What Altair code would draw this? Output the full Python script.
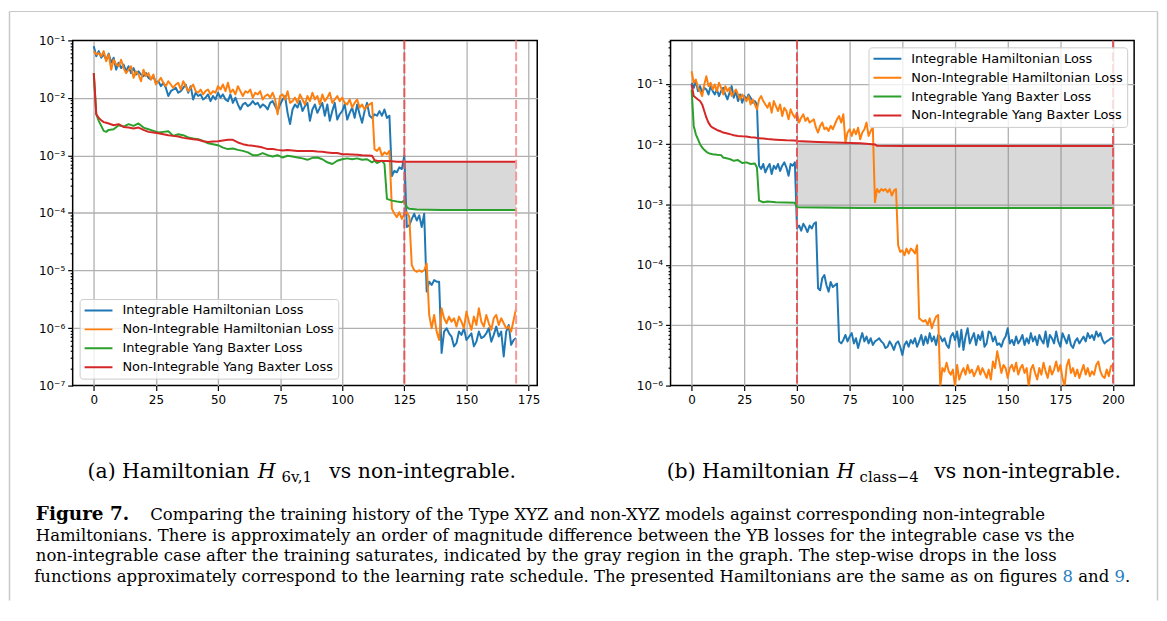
import altair as alt
import pandas as pd

# ---------------- data: panel (a) ----------------
epochs_a = list(range(171))
int_ham_a = [
    0.079, 0.053, 0.065, 0.050, 0.057, 0.046, 0.059, 0.041, 0.050, 0.031,
    0.041, 0.033, 0.038, 0.029, 0.0355, 0.027, 0.033, 0.0255, 0.029, 0.0255,
    0.0239, 0.027, 0.0223, 0.0209, 0.0239, 0.0183, 0.0195, 0.016, 0.0183, 0.015,
    0.0108, 0.0131, 0.014, 0.015, 0.0123, 0.0131, 0.015, 0.0171, 0.0123, 0.016,
    0.0094, 0.0123, 0.0108, 0.0115, 0.0094, 0.0101, 0.0115, 0.0088, 0.0108, 0.0094,
    0.0123, 0.0101, 0.0115, 0.0094, 0.0088, 0.0115, 0.0082, 0.0101, 0.0077, 0.0063,
    0.0077, 0.0082, 0.0072, 0.0077, 0.0088, 0.0077, 0.0082, 0.0068, 0.0077, 0.0072,
    0.0063, 0.0082, 0.0088, 0.0072, 0.0059, 0.0077, 0.0094, 0.0108, 0.0055, 0.0035,
    0.0063, 0.0077, 0.0068, 0.0088, 0.0059, 0.0072, 0.0082, 0.0040, 0.0063, 0.0077,
    0.0055, 0.0068, 0.0082, 0.0049, 0.0077, 0.0040, 0.0059, 0.0082, 0.0042, 0.0052,
    0.0059, 0.0077, 0.0042, 0.0055, 0.0068, 0.0045, 0.0077, 0.0052, 0.0037, 0.0059,
    0.0082, 0.0049, 0.0045, 0.0052, 0.0049, 0.0059, 0.0049, 0.0063, 0.0045, 0.0049,
    4.4e-4, 5.4e-4, 5.1e-4, 6.2e-4, 5.8e-4, 1.0e-3, 5.7e-5, 6.1e-5, 7.9e-5, 9.7e-5,
    7.4e-5, 9.1e-5, 5.7e-5, 9.7e-5, 4.3e-6, 6.4e-6, 5.6e-6, 6.8e-6, 6.4e-6, 6.4e-6,
    3.7e-7, 8.7e-7, 9.9e-7, 8.1e-7, 7.1e-7, 4.8e-7, 5.5e-7, 8.7e-7, 7.6e-7, 9.9e-7,
    6.2e-7, 7.1e-7, 8.1e-7, 4.8e-7, 5.8e-7, 8.7e-7, 6.7e-7, 7.1e-7, 8.1e-7, 9.9e-7,
    5.8e-7, 7.6e-7, 1.06e-6, 7.1e-7, 8.7e-7, 3.2e-7, 8.7e-7, 1.13e-6, 5.1e-7, 6.2e-7,
    6.7e-7,
]
nonint_ham_a = [
    0.065, 0.057, 0.060, 0.053, 0.065, 0.0434, 0.057, 0.031, 0.046, 0.038,
    0.0355, 0.046, 0.033, 0.027, 0.031, 0.0355, 0.0223, 0.029, 0.0255, 0.0195,
    0.031, 0.0239, 0.027, 0.0209, 0.0255, 0.0171, 0.0195, 0.0223, 0.0183, 0.016,
    0.0195, 0.0171, 0.015, 0.0171, 0.0183, 0.014, 0.0195, 0.016, 0.0131, 0.015,
    0.0171, 0.0131, 0.0123, 0.014, 0.0115, 0.0131, 0.014, 0.0115, 0.0131, 0.0123,
    0.016, 0.014, 0.0171, 0.0131, 0.0183, 0.0123, 0.014, 0.0115, 0.016, 0.0131,
    0.0108, 0.0131, 0.0123, 0.014, 0.0101, 0.0123, 0.0115, 0.0131, 0.0094, 0.0108,
    0.0115, 0.0101, 0.0123, 0.0094, 0.0052, 0.0108, 0.0115, 0.0094, 0.0131, 0.0082,
    0.0088, 0.0101, 0.0082, 0.0115, 0.0094, 0.0077, 0.0108, 0.0088, 0.0123, 0.0094,
    0.0108, 0.0077, 0.0115, 0.0088, 0.0101, 0.0123, 0.0082, 0.0094, 0.0108, 0.0088,
    0.0101, 0.0082, 0.0077, 0.0094, 0.0068, 0.0082, 0.0094, 0.0068, 0.0077, 0.0063,
    0.0072, 0.0077, 0.0082, 1.29e-3, 1.2e-3, 1.37e-3, 9.9e-4, 1.13e-3, 1.05e-3, 1.2e-3,
    1.18e-4, 9.7e-5, 8.5e-5, 1.03e-4, 7.9e-5, 9.7e-5, 1.03e-4, 8.5e-5, 1.24e-5, 1.01e-5,
    9.5e-6, 1.01e-5, 9.5e-6, 1.01e-5, 1.32e-5, 1.69e-6, 9.9e-7, 1.69e-6, 8.7e-7, 6.2e-7,
    2.2e-6, 1.48e-6, 1.21e-6, 1.58e-6, 1.29e-6, 1.48e-6, 1.06e-6, 1.58e-6, 1.29e-6, 9.9e-7,
    1.93e-6, 1.29e-6, 9.3e-7, 1.58e-6, 1.13e-6, 2.2e-6, 1.29e-6, 1.06e-6, 1.69e-6, 1.21e-6,
    9.3e-7, 1.48e-6, 1.69e-6, 1.13e-6, 1.48e-6, 1.21e-6, 9.9e-7, 1.06e-6, 8.7e-7, 1.38e-6,
    2.2e-6,
]
yb_epochs_a = [
    0, 1, 2, 3, 4, 5, 6,
    8, 10, 12, 14, 16, 18, 20, 22, 24, 26, 28, 30, 32, 34, 36, 38, 40, 42, 44, 46,
    48, 50, 52, 54, 56, 58, 60, 62, 64, 66, 68, 70, 72, 74, 76, 78, 80, 82, 84, 86,
    88, 90, 92, 94, 96, 98, 100, 102, 104, 106, 108, 110, 112,
    113, 114, 116, 117, 118, 120, 122, 124, 125, 126, 127, 130, 140, 150, 160, 170,
]
int_yb_a = [
    0.027, 5.2e-3, 4.0e-3, 3.26e-3, 2.67e-3, 2.57e-3, 2.78e-3,
    2.85e-3, 3.35e-3, 3.17e-3, 3.5e-3, 3.26e-3, 3.6e-3, 3.05e-3, 2.85e-3, 2.67e-3, 2.5e-3,
    2.57e-3, 2.64e-3, 2.19e-3, 2.34e-3, 2.25e-3, 2.05e-3, 1.97e-3, 1.91e-3, 1.79e-3, 1.63e-3,
    1.57e-3, 1.51e-3, 1.37e-3, 1.29e-3, 1.32e-3, 1.25e-3, 1.2e-3, 1.13e-3, 1.01e-3, 1.01e-3,
    1.1e-3, 1.01e-3, 9.6e-4, 1.01e-3, 9.2e-4, 9.9e-4, 9.6e-4, 9.2e-4, 8.9e-4, 8.4e-4,
    9.1e-4, 9.2e-4, 8.6e-4, 7.6e-4, 7.1e-4, 8.1e-4, 8.6e-4, 8.9e-4, 8.6e-4, 8.9e-4,
    8.4e-4, 8.6e-4, 7.6e-4,
    8.1e-4, 7.4e-4, 8.1e-4, 7.1e-4, 1.76e-4, 1.64e-4, 1.58e-4, 1.54e-4, 1.64e-4, 1.26e-4,
    1.18e-4, 1.15e-4, 1.13e-4, 1.13e-4, 1.13e-4, 1.13e-4,
]
nonint_yb_a = [
    0.027, 5.2e-3, 4.5e-3, 4.1e-3, 3.8e-3, 3.7e-3, 3.6e-3,
    3.35e-3, 3.5e-3, 3.13e-3, 3.05e-3, 2.93e-3, 3.05e-3, 2.78e-3, 2.57e-3, 2.5e-3, 2.43e-3,
    2.34e-3, 2.25e-3, 2.19e-3, 2.13e-3, 2.02e-3, 1.97e-3, 1.91e-3, 1.87e-3, 1.77e-3, 1.72e-3,
    1.75e-3, 1.77e-3, 1.82e-3, 1.87e-3, 1.87e-3, 1.68e-3, 1.57e-3, 1.51e-3, 1.47e-3, 1.43e-3,
    1.37e-3, 1.29e-3, 1.29e-3, 1.25e-3, 1.22e-3, 1.24e-3, 1.22e-3, 1.2e-3, 1.19e-3, 1.2e-3,
    1.19e-3, 1.17e-3, 1.16e-3, 1.13e-3, 1.1e-3, 1.1e-3, 1.05e-3, 1.05e-3, 1.04e-3, 1.03e-3,
    1.01e-3, 1.0e-3, 9.9e-4,
    8.3e-4, 8.1e-4, 8.0e-4, 8.0e-4, 8.0e-4, 7.9e-4, 7.8e-4, 7.8e-4, 7.8e-4, 7.8e-4,
    7.8e-4, 7.8e-4, 7.8e-4, 7.8e-4, 7.8e-4, 7.8e-4,
]
vlines_a = [125, 170]
fill_start_a = 125
xticks_a = [0, 25, 50, 75, 100, 125, 150, 175]

# ---------------- data: panel (b) ----------------
epochs_b = list(range(201))
int_ham_b = [
    0.104, 0.0859, 0.111, 0.0757, 0.0916, 0.0711, 0.0859, 0.0807, 0.0667, 0.0916,
    0.0757, 0.0667, 0.0807, 0.0627, 0.0757, 0.0859, 0.0667, 0.0552, 0.0711, 0.0916,
    0.0588, 0.0757, 0.0518, 0.0667, 0.0487, 0.0627, 0.0552, 0.0667, 0.0588, 0.0487,
    0.0518, 0.0456, 4.4e-3, 3.9e-3, 4.7e-3, 3.4e-3, 4.1e-3, 4.7e-3, 3.2e-3, 4.4e-3,
    3.9e-3, 4.7e-3, 3.6e-3, 4.4e-3, 5.0e-3, 4.1e-3, 3.0e-3, 4.7e-3, 4.4e-3, 5.0e-3,
    4.0e-4, 4.5e-4, 3.7e-4, 4.8e-4, 4.2e-4, 3.5e-4, 4.5e-4, 4.0e-4, 4.8e-4, 5.1e-4,
    4.1e-5, 3.8e-5, 6.0e-5, 6.8e-5, 4.6e-5, 3.6e-5, 5.2e-5, 4.3e-5, 4.6e-5, 4.9e-5,
    5.4e-6, 5.0e-6, 5.7e-6, 6.9e-6, 5.4e-6, 6.5e-6, 7.4e-6, 5.0e-6, 6.1e-6, 4.2e-6,
    5.7e-6, 7.4e-6, 5.4e-6, 6.5e-6, 5.0e-6, 6.1e-6, 4.7e-6, 5.4e-6, 5.7e-6, 6.1e-6,
    5.4e-6, 5.0e-6, 4.2e-6, 4.4e-6, 5.4e-6, 4.7e-6, 3.9e-6, 5.0e-6, 5.4e-6, 4.4e-6,
    3.2e-6, 4.7e-6, 5.4e-6, 4.4e-6, 5.7e-6, 5.0e-6, 6.1e-6, 4.4e-6, 5.4e-6, 6.9e-6,
    4.7e-6, 6.5e-6, 5.0e-6, 7.4e-6, 5.4e-6, 6.5e-6, 4.7e-6, 6.9e-6, 6.5e-6, 5.4e-6,
    6.1e-6, 4.7e-6, 4.2e-6, 6.5e-6, 7.4e-6, 5.7e-6, 7.9e-6, 4.4e-6, 8.4e-6, 3.9e-6,
    6.5e-6, 8.9e-6, 5.0e-6, 6.1e-6, 7.4e-6, 4.7e-6, 6.9e-6, 5.7e-6, 7.9e-6, 4.4e-6,
    5.0e-6, 7.9e-6, 7.4e-6, 5.4e-6, 6.5e-6, 4.7e-6, 5.0e-6, 4.4e-6, 5.7e-6, 6.5e-6,
    8.9e-6, 5.0e-6, 5.7e-6, 4.7e-6, 6.5e-6, 5.0e-6, 5.7e-6, 6.9e-6, 4.7e-6, 6.1e-6,
    5.0e-6, 7.4e-6, 5.4e-6, 6.5e-6, 4.7e-6, 6.9e-6, 5.7e-6, 5.0e-6, 7.9e-6, 4.4e-6,
    6.9e-6, 6.1e-6, 5.0e-6, 7.9e-6, 5.4e-6, 4.4e-6, 7.4e-6, 6.1e-6, 5.0e-6, 6.9e-6,
    4.7e-6, 4.2e-6, 5.4e-6, 6.1e-6, 5.0e-6, 5.7e-6, 6.5e-6, 5.4e-6, 7.4e-6, 6.1e-6,
    6.9e-6, 5.7e-6, 7.9e-6, 6.5e-6, 7.4e-6, 5.7e-6, 5.0e-6, 5.4e-6, 5.7e-6, 6.1e-6,
    6.1e-6,
]
nonint_ham_b = [
    0.162, 0.104, 0.118, 0.0859, 0.0757, 0.0627, 0.0975, 0.134, 0.0916, 0.104,
    0.0807, 0.0975, 0.0757, 0.104, 0.0859, 0.0667, 0.0916, 0.0757, 0.0859, 0.0627,
    0.0711, 0.0807, 0.0667, 0.0552, 0.0667, 0.0588, 0.0518, 0.0627, 0.0456, 0.0552,
    0.0456, 0.0378, 0.0552, 0.0627, 0.0518, 0.0456, 0.0402, 0.0487, 0.0333, 0.0518,
    0.0428, 0.0354, 0.0456, 0.0293, 0.0402, 0.0354, 0.0258, 0.0378, 0.0313, 0.0275,
    0.0333, 0.0228, 0.0275, 0.0313, 0.0243, 0.0275, 0.0228, 0.0243, 0.0258, 0.0188,
    0.0156, 0.0201, 0.0228, 0.0177, 0.0188, 0.0166, 0.0201, 0.0177, 0.0214, 0.0258,
    0.0293, 0.0228, 0.0313, 0.0106, 0.0156, 0.0177, 0.0137, 0.0177, 0.0146, 0.0188,
    0.0121, 0.0156, 0.0177, 0.0228, 0.0137, 0.0166, 0.0188, 1.09e-3, 1.81e-3, 1.60e-3,
    1.81e-3, 1.70e-3, 1.81e-3, 1.60e-3, 1.81e-3, 1.41e-3, 1.70e-3, 1.81e-3, 2.11e-4, 1.64e-4,
    1.74e-4, 1.44e-4, 1.86e-4, 1.54e-4, 1.86e-4, 1.74e-4, 1.54e-4, 2.11e-4, 1.30e-5, 1.22e-5,
    1.15e-5, 1.22e-5, 1.01e-5, 1.30e-5, 8.9e-6, 1.15e-5, 1.39e-5, 1.48e-5, 0.95e-6, 1.95e-6,
    1.72e-6, 2.4e-6, 1.72e-6, 1.52e-6, 1.84e-6, 0.97e-6, 2.2e-6, 1.26e-6, 1.62e-6, 1.95e-6,
    1.52e-6, 2.2e-6, 1.62e-6, 1.84e-6, 1.43e-6, 1.72e-6, 2.1e-6, 1.52e-6, 1.95e-6, 1.62e-6,
    1.34e-6, 1.84e-6, 1.26e-6, 2.5e-6, 1.95e-6, 3.7e-6, 2.5e-6, 1.62e-6, 2.2e-6, 1.95e-6,
    1.34e-6, 1.95e-6, 2.2e-6, 1.72e-6, 2.4e-6, 1.52e-6, 1.95e-6, 2.2e-6, 1.62e-6, 1.95e-6,
    0.95e-6, 1.84e-6, 2.2e-6, 1.62e-6, 1.26e-6, 1.95e-6, 1.52e-6, 2.4e-6, 1.72e-6, 1.34e-6,
    2.1e-6, 1.52e-6, 1.84e-6, 2.5e-6, 1.72e-6, 2.2e-6, 1.34e-6, 0.96e-6, 2.1e-6, 2.7e-6,
    1.62e-6, 1.95e-6, 1.43e-6, 1.84e-6, 1.34e-6, 1.72e-6, 2.2e-6, 1.52e-6, 1.95e-6, 1.43e-6,
    1.72e-6, 1.52e-6, 2.2e-6, 2.5e-6, 1.72e-6, 1.43e-6, 1.34e-6, 1.84e-6, 1.43e-6, 2.1e-6,
    2.2e-6,
]
yb_epochs_b = [0, 1, 2, 3, 4, 5, 6, 7, 8, 9, 10, 12, 14, 15, 17, 19, 20, 22, 24, 26, 28,
               30, 31, 32, 34, 36, 40, 45, 49, 50, 60, 80, 87, 88, 100, 150, 200]
int_yb_b = [0.0807, 0.0201, 0.0146, 0.0121, 0.0100, 8.8e-3, 8.07e-3, 7.49e-3, 7.11e-3,
            6.93e-3, 6.8e-3, 6.67e-3, 6.59e-3, 6.0e-3, 5.81e-3, 5.52e-3, 5.3e-3, 5.45e-3,
            4.87e-3, 5.0e-3, 4.7e-3, 4.8e-3, 4.1e-3, 1.16e-3, 1.09e-3, 1.12e-3, 1.09e-3,
            1.08e-3, 1.07e-3, 9.0e-4, 8.9e-4, 8.8e-4, 8.8e-4, 8.8e-4, 8.8e-4, 8.8e-4, 8.8e-4]
nonint_yb_b = [0.0975, 0.0627, 0.0588, 0.0552, 0.0518, 0.0456, 0.0354, 0.0275, 0.0228,
               0.0201, 0.0188, 0.0172, 0.0162, 0.0156, 0.015, 0.0144, 0.0141, 0.0137,
               0.0135, 0.0134, 0.013, 0.0129, 0.0127, 0.0126, 0.0124, 0.0122, 0.0119,
               0.0116, 0.0115, 0.0113, 0.0109, 0.0104, 9.9e-3, 9.4e-3, 9.3e-3, 9.3e-3, 9.3e-3]
vlines_b = [50, 200]
fill_start_b = 50
xticks_b = [0, 25, 50, 75, 100, 125, 150, 175, 200]

SERIES = ["Integrable Hamiltonian Loss", "Non-Integrable Hamiltonian Loss",
          "Integrable Yang Baxter Loss", "Non-Integrable Yang Baxter Loss"]
COLORS = ["#1f77b4", "#ff7f0e", "#2ca02c", "#d62728"]

cap_a = ["(a) Hamiltonian", "H", "6v,1", "vs non-integrable."]
cap_b = ["(b) Hamiltonian", "H", "class\u22124", "vs non-integrable."]
fig_bold = "Figure 7."
fig_lines = [
    "Comparing the training history of the Type XYZ and non-XYZ models against corresponding non-integrable",
    "Hamiltonians. There is approximately an order of magnitude difference between the YB losses for the integrable case vs the",
    "non-integrable case after the training saturates, indicated by the gray region in the graph. The step-wise drops in the loss",
]
fig_last = ["functions approximately correspond to the learning rate schedule. The presented Hamiltonians are the same as on figures",
            "8", "and", "9", "."]

# ---------------- helpers ----------------
W, H = 467, 347
MAJOR = "abs(log(datum.value)/LN10 - round(log(datum.value)/LN10)) < 0.001"
SUP = "['\u2070','\u00b9','\u00b2','\u00b3','\u2074','\u2075','\u2076','\u2077','\u2078','\u2079']"
LABEL_EXPR = f"{MAJOR} ? '10\u207b' + {SUP}[-round(log(datum.value)/LN10)] : ''"
one = pd.DataFrame({"k": [0]})
BODYF = "DejaVu Serif"
FS = 16.55         # caption body font size


def log_ticks(lo_exp, extra):
    vals = []
    for e in range(lo_exp, -1):
        for m in range(1, 10):
            vals.append(m * 10.0 ** e)
    return vals + extra


def text(s, x, y, size=FS, style="normal", weight="normal", align="left",
         color="black", font=BODYF):
    return alt.Chart(one).mark_text(
        text=s, fontSize=size, font=font, fontStyle=style, fontWeight=weight,
        align=align, baseline="alphabetic", color=color
    ).encode(x=alt.value(x), y=alt.value(y))


def panel(epochs, ham_i, ham_n, yb_ep, yb_i, yb_n, vlines, vcolors, fill_start,
          xdom, ydom, xticks, yticks, legend_orient, legend_offset):
    grid_test = f"{MAJOR} && datum.value > {ydom[0] * 1.01} && datum.value < {ydom[1] / 1.01}"
    xs = alt.Scale(domain=xdom, nice=False, zero=False)
    ys = alt.Scale(type="log", domain=ydom, nice=False)
    xax = alt.Axis(values=xticks, title=None, grid=True, tickSize=5, labelPadding=4)
    yax = alt.Axis(values=yticks, title=None, grid=True, labelExpr=LABEL_EXPR,
                   labelOverlap=False, labelPadding=3,
                   tickSize={"condition": {"test": MAJOR, "value": 5}, "value": 2.5},
                   gridOpacity={"condition": {"test": grid_test, "value": 1}, "value": 0})
    X = alt.X("epoch:Q", scale=xs, axis=xax)
    cs = alt.Scale(domain=SERIES, range=COLORS)
    leg = alt.Legend(orient=legend_orient, offset=legend_offset, title=None)

    yb = pd.DataFrame({"epoch": yb_ep, "hi": yb_n, "lo": yb_i})
    fill = alt.Chart(yb[yb["epoch"] >= fill_start]).mark_area(
        color="#808080", opacity=0.3, clip=True
    ).encode(x=X, y=alt.Y("hi:Q", scale=ys, axis=yax), y2="lo:Q")

    layers = [fill]
    for name, ep, vals in [(SERIES[0], epochs, ham_i), (SERIES[1], epochs, ham_n),
                           (SERIES[2], yb_ep, yb_i), (SERIES[3], yb_ep, yb_n)]:
        df = pd.DataFrame({"epoch": ep, "loss": vals, "series": name})
        layers.append(
            alt.Chart(df).mark_line(strokeWidth=2, clip=True, strokeJoin="round").encode(
                x=X, y=alt.Y("loss:Q", scale=ys, axis=yax),
                color=alt.Color("series:N", scale=cs, legend=leg),
            )
        )
    for v, c in zip(vlines, vcolors):
        layers.append(
            alt.Chart(pd.DataFrame({"epoch": [v]})).mark_rule(
                color=c, strokeWidth=2, strokeDash=[9, 3]
            ).encode(x=X)
        )
    return layers


# ---------------- panel (a) ----------------
layers_a = panel(epochs_a, int_ham_a, nonint_ham_a, yb_epochs_a, int_yb_a, nonint_yb_a,
                 vlines_a, ["#e3585a", "#f59a9b"], fill_start_a,
                 [-8.5, 178.5], [1e-7, 1e-1], xticks_a, log_ticks(-7, [0.1]),
                 "bottom-left", 7)

# captions and frame (positions relative to panel (a) plot origin)
frame = "#c8c8c8"
SUBF = "DejaVu Serif"
R = 1063           # right end of last caption line
LINK = "#2a7fc1"
# DejaVu Serif advance widths (em): '.'=.318, digit=.636, space=.318, 'and'=1.88
layers_a += [
    alt.Chart(one).mark_rule(color=frame, strokeWidth=1.5).encode(
        x=alt.value(-63.5), y=alt.value(-29), y2=alt.value(563)),
    alt.Chart(one).mark_rule(color=frame, strokeWidth=1.5).encode(
        x=alt.value(1090.5), y=alt.value(-29), y2=alt.value(563)),
    alt.Chart(one).mark_rule(color=frame, strokeWidth=1).encode(
        x=alt.value(-63.5), x2=alt.value(1090.5), y=alt.value(-29)),
    # sub captions
    text(cap_a[0], 178, 440, size=20.5, align="right", font=SUBF),
    text(cap_a[1], 186, 440, size=20.5, style="italic", font=SUBF),
    text(cap_a[2], 210, 444, size=15, font=SUBF),
    text(cap_a[3], 258, 440, size=20.5, font=SUBF),
    text(cap_b[0], 761, 440, size=20.5, align="right", font=SUBF),
    text(cap_b[1], 768, 440, size=20.5, style="italic", font=SUBF),
    text(cap_b[2], 791, 444, size=15, font=SUBF),
    text(cap_b[3], 866, 440, size=20.5, font=SUBF),
    # figure caption
    text(fig_bold, -37, 482.5, size=18.5, weight="bold"),
    text(fig_lines[0], 78, 482.5),
    text(fig_lines[1], -37, 503),
    text(fig_lines[2], -37, 523.5),
    # last line, right-anchored pieces
    text(fig_last[4], R, 544, align="right"),
    text(fig_last[3], R - 0.318 * FS, 544, align="right", color=LINK),
    text(fig_last[2], R - 1.272 * FS, 544, align="right"),
    text(fig_last[1], R - 3.47 * FS, 544, align="right", color=LINK),
    text(fig_last[0], R - 4.424 * FS, 544, align="right"),
]
chart_a = alt.layer(*layers_a).properties(width=W, height=H)

# ---------------- panel (b) ----------------
layers_b = panel(epochs_b, int_ham_b, nonint_ham_b, yb_epochs_b, int_yb_b, nonint_yb_b,
                 vlines_b, ["#e3585a", "#e3585a"], fill_start_b,
                 [-10, 210], [1e-6, 0.525], xticks_b,
                 log_ticks(-6, [0.1, 0.2, 0.3, 0.4, 0.5]),
                 "top-right", 7)
chart_b = alt.layer(*layers_b).properties(width=466, height=H)

chart = alt.hconcat(chart_a, chart_b, spacing=134, bounds="flush").resolve_scale(
    color="independent"
).resolve_legend(color="independent").properties(padding=0).configure_view(
    stroke="black", strokeWidth=1.5
).configure_axis(
    domain=False, gridColor="#b0b0b0", gridWidth=1.3, tickColor="black", tickWidth=1.2,
    labelFont="DejaVu Sans", labelFontSize=12, labelColor="black"
).configure_legend(
    labelFont="DejaVu Sans", labelFontSize=13, labelColor="black", labelLimit=400,
    symbolType="stroke", symbolStrokeWidth=2, symbolSize=784,
    fillColor="rgba(255,255,255,0.8)", strokeColor="#cccccc", cornerRadius=3,
    padding=4, rowPadding=4, clipHeight=15, labelOffset=9
)

chart.save("out.html", embed_options={"renderer": "svg", "actions": False})
